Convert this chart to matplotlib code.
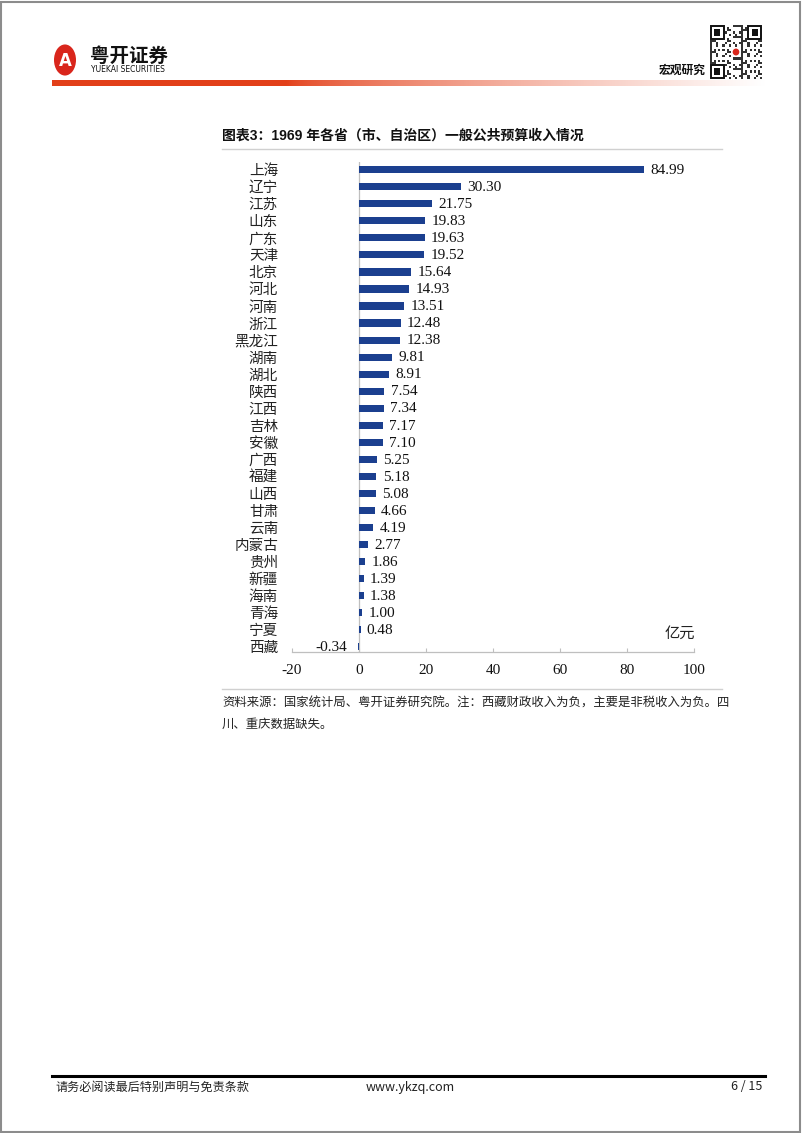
# -*- coding: utf-8 -*-
"""
1969年各省（市、自治区）一般公共预算收入 - page recreation
"""
import numpy as np
import matplotlib
matplotlib.use('Agg')
import matplotlib.pyplot as plt
from matplotlib.patches import Rectangle, Circle

plt.rcParams['font.family'] = ['Noto Sans CJK SC', 'DejaVu Sans']
plt.rcParams['axes.unicode_minus'] = False

# data (亿元)
provinces = ['上海', '辽宁', '江苏', '山东', '广东', '天津', '北京', '河北', '河南', '浙江',
             '黑龙江', '湖南', '湖北', '陕西', '江西', '吉林', '安徽', '广西', '福建', '山西',
             '甘肃', '云南', '内蒙古', '贵州', '新疆', '海南', '青海', '宁夏', '西藏']
values = [84.99, 30.30, 21.75, 19.83, 19.63, 19.52, 15.64, 14.93, 13.51, 12.48,
          12.38, 9.81, 8.91, 7.54, 7.34, 7.17, 7.10, 5.25, 5.18, 5.08,
          4.66, 4.19, 2.77, 1.86, 1.39, 1.38, 1.00, 0.48, -0.34]
xticks = [-20, 0, 20, 40, 60, 80, 100]

W, H = 802, 1133
BAR = '#1b3f8f'
GRID = '#bfbfbf'


def fx(x):
    return x / W


def fy(y):
    return 1 - y / H


fig = plt.figure(figsize=(W / 100, H / 100), dpi=100)

# page border
fig.add_artist(Rectangle((0.001, 0.001), 0.997, 0.997, transform=fig.transFigure,
                         fill=False, edgecolor='#8c8c8c', lw=1.5))

# ---- header ----
fig.add_artist(Circle((fx(65), fy(60)), 11 / W, transform=fig.transFigure,
                      facecolor='#d9261c', edgecolor='none'))
fig.text(fx(65), fy(61), 'A', color='white', fontsize=12, fontweight='bold',
         ha='center', va='center', family=['DejaVu Sans'])
fig.text(fx(90), fy(56), '粤开证券', fontsize=14, fontweight='bold', color='#111111',
         ha='left', va='center')
fig.text(fx(91), fy(70), 'YUEKAI SECURITIES', fontsize=5.5, color='#111111',
         ha='left', va='center', family=['DejaVu Sans'])
fig.text(fx(706), fy(70), '宏观研究', fontsize=8.5, fontweight='bold', color='#111111',
         ha='right', va='center')

# gradient header line
gax = fig.add_axes([fx(52), fy(86), fx(765) - fx(52), 6 / H])
t = np.linspace(0, 1, 400)
fade = np.clip((t - 0.33) / 0.67, 0, 1) ** 0.7
red = np.array([0.89, 0.25, 0.10])
row = red[None, :] * (1 - fade[:, None]) + np.ones(3)[None, :] * fade[:, None]
gax.imshow(row[None, :, :], aspect='auto', extent=[0, 1, 0, 1])
gax.axis('off')

# QR-like block
qax = fig.add_axes([fx(710), fy(79), 52 / W, 54 / H])
qax.set_xlim(0, 25)
qax.set_ylim(0, 25)
qax.axis('off')
ii, jj = np.indices((25, 25))
pat = ((ii * 7 + jj * 3 + (ii * jj) % 5) % 3 == 0)
for a, b in zip(*np.nonzero(pat)):
    qax.add_patch(Rectangle((a, b), 1, 1, color='#333333', lw=0))
for (x0, y0) in [(0, 18), (18, 18), (0, 0)]:
    qax.add_patch(Rectangle((x0, y0), 7, 7, color='white', lw=0))
    qax.add_patch(Rectangle((x0 + 0.5, y0 + 0.5), 6, 6, fill=False, edgecolor='#111111', lw=1.4))
    qax.add_patch(Rectangle((x0 + 2, y0 + 2), 3, 3, color='#111111', lw=0))
qax.add_patch(Rectangle((10, 10), 5, 5, color='white', lw=0))
qax.add_patch(Circle((12.5, 12.5), 1.6, color='#d9261c', lw=0))

# ---- title ----
fig.text(fx(222), fy(136), '图表3：1969 年各省（市、自治区）一般公共预算收入情况',
         fontsize=10, fontweight='bold', color='#111111', ha='left', va='center',
         family=['Liberation Sans', 'Noto Sans CJK SC'])
fig.add_artist(plt.Line2D([fx(222), fx(722)], [fy(149), fy(149)], transform=fig.transFigure,
                          color='#d0d0d0', lw=1))

# ---- chart ----
ax = fig.add_axes([fx(292), fy(652), fx(694) - fx(292), (652 - 162) / H])
y = np.arange(len(provinces))
ax.barh(y, values, height=0.42, color=BAR)
ax.set_xlim(-20, 100)
ax.set_ylim(len(provinces) - 1 + 0.3, -0.45)
ax.axvline(0, color=GRID, lw=0.9, zorder=0)

for i, v in enumerate(values):
    if v >= 0:
        ax.annotate(f'{v:.2f}', (v, i), xytext=(4.5, -0.5), textcoords='offset points',
                    ha='left', va='center', fontsize=11, family=['Liberation Serif'],
                    color='#111111')
    else:
        ax.annotate(f'{v:.2f}', (v, i), xytext=(-8, -0.5), textcoords='offset points',
                    ha='right', va='center', fontsize=11, family=['Liberation Serif'],
                    color='#111111')

ax.set_yticks(y)
ax.set_yticklabels(provinces, fontsize=10.5, color='#222222')
ax.tick_params(axis='y', length=0, pad=10)
ax.set_xticks(xticks)
ax.set_xticklabels([str(v) for v in xticks], fontsize=11, family=['Liberation Serif'],
                   color='#111111')
ax.tick_params(axis='x', direction='in', length=3, color=GRID, pad=9)
for s in ['top', 'right', 'left']:
    ax.spines[s].set_visible(False)
ax.spines['bottom'].set_color(GRID)
ax.spines['bottom'].set_linewidth(0.9)
ax.set_facecolor('none')

fig.text(fx(680), fy(633), '亿元', fontsize=11, color='#222222', ha='center', va='center')

# ---- source note ----
fig.add_artist(plt.Line2D([fx(222), fx(722)], [fy(689), fy(689)], transform=fig.transFigure,
                          color='#d0d0d0', lw=1))
fig.text(fx(222), fy(703), '资料来源：国家统计局、粤开证券研究院。注：西藏财政收入为负，主要是非税收入为负。四',
         fontsize=8.9, color='#222222', ha='left', va='center')
fig.text(fx(222), fy(724), '川、重庆数据缺失。', fontsize=8.9, color='#222222',
         ha='left', va='center')

# ---- footer ----
fig.add_artist(plt.Line2D([fx(52), fx(765)], [fy(1076), fy(1076)], transform=fig.transFigure,
                          color='black', lw=2.2))
fig.text(fx(55), fy(1087), '请务必阅读最后特别声明与免责条款', fontsize=8.7, color='#222222',
         ha='left', va='center')
fig.text(fx(366), fy(1087), 'www.ykzq.com', fontsize=9, color='#222222',
         ha='left', va='center')
fig.text(fx(762), fy(1087), '6 / 15', fontsize=9, color='#222222',
         ha='right', va='center')

fig.savefig('out.png', dpi=100)
plt.close(fig)
